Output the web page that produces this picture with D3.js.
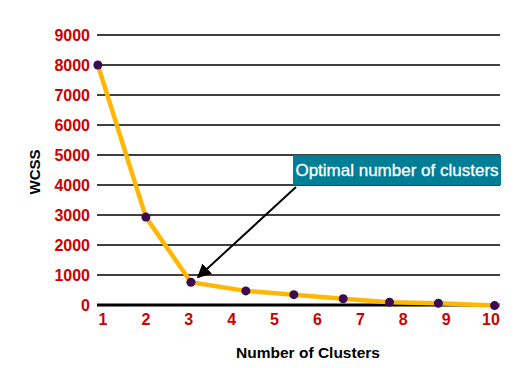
<!DOCTYPE html>
<html>
<head>
<meta charset="utf-8">
<script src="https://cdn.jsdelivr.net/npm/d3@7"></script>
<style>
	body { margin: 0; background: #fff; }
	svg { display: block; font-family: "Liberation Sans", Arial, sans-serif; }
</style>
</head>
<body>
<div id="stage"></div>
<script>
// Elbow data
var xTicks = [1, 2, 3, 4, 5, 6, 7, 8, 9, 10];
var yTicks = [0, 1000, 2000, 3000, 4000, 5000, 6000, 7000, 8000, 9000];
var clusterX = [0.88, 2.0, 3.05, 4.33, 5.45, 6.6, 7.68, 8.82, 10.13];
var wcss = [8000, 2930, 760, 470, 345, 210, 90, 57, -20];
var annotation = 'Optimal number of clusters';

var width = 521, height = 368;
var gridLeft = 97, gridRight = 500;

var svg = d3.select('#stage').append('svg')
	.attr('width', width)
	.attr('height', height);

var x = d3.scaleLinear().domain([1, 10]).range([103, 489]);
var y = d3.scaleLinear().domain([0, 9000]).range([305, 35]);

// horizontal grid lines
svg.selectAll('line.grid')
	.data(yTicks)
	.enter()
	.append('line')
	.attr('class', 'grid')
	.attr('x1', gridLeft)
	.attr('x2', gridRight)
	.attr('y1', function(d) { return y(d); })
	.attr('y2', function(d) { return y(d); })
	.attr('stroke', '#000')
	.attr('stroke-width', function(d) { return d === 0 ? 3 : 1.5; });

// y tick labels
svg.selectAll('text.ytick')
	.data(yTicks)
	.enter()
	.append('text')
	.attr('class', 'ytick')
	.attr('x', 90)
	.attr('y', function(d) { return y(d) + 5.5; })
	.attr('text-anchor', 'end')
	.style('font-size', '16px')
	.style('font-weight', 'bold')
	.style('fill', '#cc0000')
	.text(function(d) { return d; });

// x tick labels
svg.selectAll('text.xtick')
	.data(xTicks)
	.enter()
	.append('text')
	.attr('class', 'xtick')
	.attr('x', function(d) { return x(d) + (d === 10 ? 2 : 0); })
	.attr('y', 325)
	.attr('text-anchor', 'middle')
	.style('font-size', '16px')
	.style('font-weight', 'bold')
	.style('fill', '#cc0000')
	.text(function(d) { return d; });

// axis titles
svg.append('text')
	.attr('transform', 'translate(40,172) rotate(-90)')
	.attr('text-anchor', 'middle')
	.style('font-size', '15px')
	.style('font-weight', 'bold')
	.text('WCSS');

svg.append('text')
	.attr('x', 308)
	.attr('y', 358)
	.attr('text-anchor', 'middle')
	.style('font-size', '15.5px')
	.style('font-weight', 'bold')
	.text('Number of Clusters');

var points = clusterX.map(function(d, i) { return {x: d, y: wcss[i]}; });

// the elbow line
var line = d3.line()
	.x(function(d) { return x(d.x); })
	.y(function(d) { return y(d.y); });

svg.append('path')
	.datum(points.concat([{x: 10.25, y: -20}]))
	.attr('d', line)
	.attr('fill', 'none')
	.attr('stroke', '#ffb703')
	.attr('stroke-width', 4.5)
	.attr('stroke-linejoin', 'round');

svg.selectAll('circle')
	.data(points)
	.enter()
	.append('circle')
	.attr('r', 4.5)
	.attr('cx', function(d) { return x(d.x); })
	.attr('cy', function(d) { return y(d.y); })
	.style('fill', '#3b0a4f');

// annotation box + arrow
var box = {x: 293, y: 155, w: 208, h: 30};

svg.append('defs').append('marker')
	.attr('id', 'arrow')
	.attr('viewBox', '0 0 10 10')
	.attr('refX', 9)
	.attr('refY', 5)
	.attr('markerWidth', 7)
	.attr('markerHeight', 7)
	.attr('orient', 'auto')
	.append('path')
	.attr('d', 'M0,0L10,5L0,10z')
	.attr('fill', '#000');

var target = points[2];
svg.append('line')
	.attr('x1', box.x + 3)
	.attr('y1', box.y + box.h + 2)
	.attr('x2', x(target.x) + 7)
	.attr('y2', y(target.y) - 5)
	.attr('stroke', '#000')
	.attr('stroke-width', 2)
	.attr('marker-end', 'url(#arrow)');

svg.append('rect')
	.attr('x', box.x)
	.attr('y', box.y)
	.attr('width', box.w)
	.attr('height', box.h)
	.attr('fill', '#007e96');

svg.append('text')
	.attr('x', box.x + box.w / 2)
	.attr('y', box.y + 21)
	.attr('text-anchor', 'middle')
	.style('font-size', '17px')
	.style('fill', '#fff')
	.style('stroke', '#fff')
	.style('stroke-width', 0.3)
	.text(annotation);
</script>
</body>
</html>
